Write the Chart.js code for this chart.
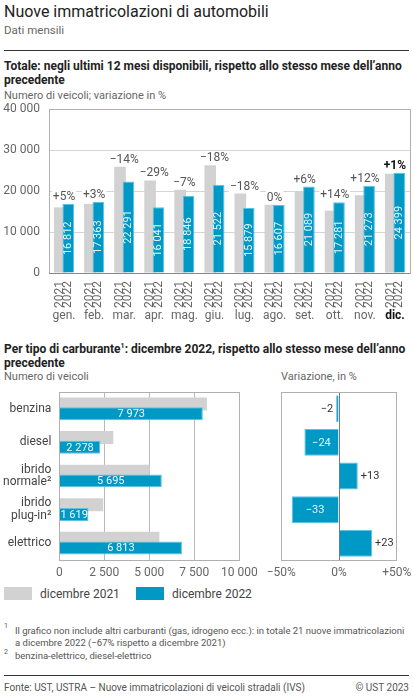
<!DOCTYPE html>
<html lang="it">
<head>
<meta charset="utf-8">
<title>Nuove immatricolazioni di automobili</title>
<script src="https://cdn.jsdelivr.net/npm/chart.js@4.4.1/dist/chart.umd.min.js"></script>
<style>
  html, body { margin: 0; padding: 0; background: #fff; }
  body { width: 413px; height: 696px; position: relative; overflow: hidden; font-family: Roboto, "Noto Sans", sans-serif; }
  .t { position: absolute; white-space: nowrap; }
  .rule { position: absolute; left: 4px; width: 405px; height: 1px; background: #333; }
  canvas { position: absolute; }
  .sw { position: absolute; width: 28px; height: 13px; }
</style>
</head>
<body>
<div class="t" style="left:4px;top:2px;font-size:16px;line-height:20px;color:#222">Nuove immatricolazioni di automobili</div>
<div class="t" style="left:4px;top:23px;font-size:11.5px;line-height:14px;color:#666">Dati mensili</div>
<div class="rule" style="top:50px"></div>

<div class="t" style="left:4px;top:59px;font-size:12px;line-height:14px;color:#222;font-weight:bold">Totale: negli ultimi 12 mesi disponibili, rispetto allo stesso mese dell’anno<br>precedente</div>
<div class="t" style="left:4px;top:89px;font-size:11px;line-height:14px;color:#666">Numero di veicoli; variazione in %</div>
<canvas id="monthly" width="413" height="225" style="left:0;top:100px"></canvas>

<div class="t" style="left:4px;top:339px;font-size:12px;line-height:14px;color:#222;font-weight:bold">Per tipo di carburante<sup style="font-size:7px">1</sup>: dicembre 2022, rispetto allo stesso mese dell’anno<br>precedente</div>
<div class="t" style="left:4px;top:370px;font-size:11px;line-height:14px;color:#666">Numero di veicoli</div>
<div class="t" style="left:281px;top:370px;font-size:11px;line-height:14px;color:#666">Variazione, in %</div>
<canvas id="fuel" width="262" height="195" style="left:0;top:385px"></canvas>
<canvas id="change" width="151" height="195" style="left:262px;top:385px"></canvas>

<div class="sw" style="left:4px;top:587px;background:#d2d2d2"></div>
<div class="t" style="left:40px;top:587px;font-size:12px;line-height:14px;color:#444">dicembre 2021</div>
<div class="sw" style="left:136px;top:587px;background:#0099c6"></div>
<div class="t" style="left:172px;top:587px;font-size:12px;line-height:14px;color:#444">dicembre 2022</div>

<div class="t" style="left:4px;top:622px;font-size:7px;line-height:8px;color:#555">1</div>
<div class="t" style="left:15px;top:625px;font-size:9.5px;line-height:12px;color:#555">Il grafico non include altri carburanti (gas, idrogeno ecc.): in totale 21 nuove immatricolazioni<br>a dicembre 2022 (−67% rispetto a dicembre 2021)</div>
<div class="t" style="left:4px;top:648px;font-size:7px;line-height:8px;color:#555">2</div>
<div class="t" style="left:15px;top:650px;font-size:9.5px;line-height:12px;color:#555">benzina-elettrico, diesel-elettrico</div>
<div class="rule" style="top:675px"></div>
<div class="t" style="left:4px;top:682px;font-size:10px;line-height:12px;color:#555">Fonte: UST, USTRA – Nuove immatricolazioni di veicoli stradali (IVS)</div>
<div class="t" style="right:4px;top:682px;font-size:10px;line-height:12px;color:#555">© UST 2023</div>

<script>
// monthly totals
const months = ["gen.", "feb.", "mar.", "apr.", "mag.", "giu.", "lug.", "ago.", "set.", "ott.", "nov.", "dic."];
const years = ["2021", "2022"];
const total2021 = [16010, 16860, 25920, 22590, 20300, 26300, 19380, 16650, 20000, 15200, 18990, 24200];
const total2022 = [16812, 17363, 22291, 16041, 18846, 21522, 15879, 16607, 21089, 17281, 21273, 24399];
const totalChange = ["+5%", "+3%", "−14%", "−29%", "−7%", "−18%", "−18%", "0%", "+6%", "+14%", "+12%", "+1%"];
const totalTicks = [0, 10000, 20000, 30000, 40000];

// fuel types, December
const fuels = [["benzina"], ["diesel"], ["ibrido", "normale²"], ["ibrido", "plug-in²"], ["elettrico"]];
const fuel2021 = [8200, 3000, 5020, 2440, 5560];
const fuel2022 = [7973, 2278, 5695, 1619, 6813];
const fuelTicks = [0, 2500, 5000, 7500, 10000];
// bar lengths as drawn in the reference, and the printed labels
const fuelChangeBars = [-2.5, -30, 16.3, -41, 28.7];
const fuelChangeLabels = ["−2", "−24", "+13", "−33", "+23"];
const changeTicks = [-50, 0, 50];

const GREY = "#d2d2d2";
const BLUE = "#0099c6";

Chart.defaults.font.family = "Roboto, 'Noto Sans', sans-serif";
Chart.defaults.animation = false;

function fmt(n) {
    return String(n).replace(/\B(?=(\d{3})+(?!\d))/g, " ");
}

// fixed axis size, no extra room for the end labels (layout padding handles it)
function fixSize(w, h) {
    return s => {
        if (w !== null) s.width = w;
        if (h !== null) s.height = h;
        s.paddingTop = s.paddingBottom = s.paddingLeft = s.paddingRight = 0;
    };
}

// draws the 2022 bars after the 2021 ones so they sit on top
const blueOnTop = {
    id: "blueOnTop",
    beforeDatasetDraw(chart, args) {
        if (args.index === 1 && !chart.$late) return false;
    },
    afterDatasetsDraw(chart) {
        const a = chart.chartArea;
        const ctx = chart.ctx;
        chart.$late = true;
        ctx.save();
        ctx.beginPath();
        ctx.rect(a.left, a.top, a.right - a.left, a.bottom - a.top);
        ctx.clip();
        chart.getDatasetMeta(1).controller.draw();
        ctx.restore();
        chart.$late = false;
    }
};

// grey box around the plot area
const frame = {
    id: "frame",
    afterDraw(chart, args, opts) {
        const a = chart.chartArea;
        const ctx = chart.ctx;
        ctx.save();
        ctx.strokeStyle = "#b0b0b0";
        ctx.lineWidth = 1;
        ctx.strokeRect(Math.round(a.left) + 0.5, Math.round(a.top) + 0.5,
            Math.round(a.right - a.left), Math.round(a.bottom - a.top));
        if (opts.baseline) {
            ctx.strokeStyle = "#888";
            ctx.beginPath();
            ctx.moveTo(a.left, Math.round(a.bottom) + 0.5);
            ctx.lineTo(a.right, Math.round(a.bottom) + 0.5);
            ctx.stroke();
        }
        ctx.restore();
    }
};

// labels for the monthly chart
const monthlyLabels = {
    id: "monthlyLabels",
    afterDraw(chart) {
        const ctx = chart.ctx;
        const m21 = chart.getDatasetMeta(0).data;
        const m22 = chart.getDatasetMeta(1).data;
        const bottom = chart.chartArea.bottom;
        ctx.save();
        m22.forEach((bar, i) => {
            const g = m21[i];
            const mid = (g.x + bar.x) / 2;
            const last = i === months.length - 1;

            // value inside the blue bar
            ctx.save();
            ctx.translate(bar.x, (bar.y + bar.base) / 2);
            ctx.rotate(-Math.PI / 2);
            ctx.font = "11px Roboto";
            ctx.fillStyle = "#e8f5fa";
            ctx.textAlign = "center";
            ctx.textBaseline = "middle";
            ctx.fillText(fmt(total2022[i]), 0, 0);
            ctx.restore();

            // change on top, white backed
            const top = Math.min(g.y, bar.y);
            ctx.font = (last ? "bold " : "") + "12px Roboto";
            const w = ctx.measureText(totalChange[i]).width;
            ctx.fillStyle = "#fff";
            ctx.fillRect(mid - w / 2 - 1, top - 14, w + 2, 13);
            ctx.fillStyle = last ? "#111" : "#555";
            ctx.textAlign = "center";
            ctx.textBaseline = "bottom";
            ctx.fillText(totalChange[i], mid, top - 1);

            // years, rotated
            [g, bar].forEach((b, k) => {
                ctx.save();
                ctx.translate(b.x, bottom + 8);
                ctx.rotate(-Math.PI / 2);
                ctx.font = "12px Roboto";
                ctx.fillStyle = "#666";
                ctx.textAlign = "right";
                ctx.textBaseline = "middle";
                ctx.fillText(years[k], 0, 0);
                ctx.restore();
            });

            // month
            ctx.font = (last ? "bold " : "") + "12px Roboto";
            ctx.fillStyle = last ? "#111" : "#666";
            ctx.textAlign = "center";
            ctx.textBaseline = "middle";
            ctx.fillText(months[i], mid, bottom + 43);
        });
        ctx.restore();
    }
};

new Chart(document.getElementById("monthly"), {
    type: "bar",
    data: {
        labels: months,
        datasets: [
            { label: years[0], data: total2021, backgroundColor: GREY,
              categoryPercentage: 0.56, barPercentage: 1.38 },
            { label: years[1], data: total2022, backgroundColor: BLUE,
              borderColor: "#5cc2e4", borderWidth: 1,
              categoryPercentage: 0.56, barPercentage: 1.38 }
        ]
    },
    options: {
        responsive: false,
        layout: { padding: { top: 9, right: 3, left: 0, bottom: 0 } },
        plugins: { legend: { display: false }, tooltip: { enabled: false }, frame: { baseline: true } },
        scales: {
            x: {
                grid: { display: false, drawTicks: false },
                border: { display: false },
                ticks: { display: false },
                afterFit: fixSize(null, 52)
            },
            y: {
                min: totalTicks[0],
                max: totalTicks[totalTicks.length - 1],
                afterBuildTicks: s => { s.ticks = totalTicks.map(v => ({ value: v })); },
                grid: { color: "#d4d4d4", drawTicks: false },
                border: { display: false },
                ticks: { padding: 9, color: "#666", font: { size: 12 }, callback: v => fmt(v) },
                afterFit: fixSize(49, null)
            }
        }
    },
    plugins: [blueOnTop, frame, monthlyLabels]
});

// values inside the blue bars of the fuel chart
const fuelLabels = {
    id: "fuelLabels",
    afterDraw(chart) {
        const ctx = chart.ctx;
        ctx.save();
        ctx.font = "11px Roboto";
        ctx.fillStyle = "#eef8fc";
        ctx.textAlign = "center";
        ctx.textBaseline = "middle";
        chart.getDatasetMeta(1).data.forEach((bar, i) => {
            ctx.fillText(fmt(fuel2022[i]), (bar.x + bar.base) / 2, bar.y + 0.5);
        });
        ctx.restore();
    }
};

new Chart(document.getElementById("fuel"), {
    type: "bar",
    data: {
        labels: fuels,
        datasets: [
            { label: "dicembre 2021", data: fuel2021, backgroundColor: GREY,
              categoryPercentage: 0.58, barPercentage: 1.33 },
            { label: "dicembre 2022", data: fuel2022, backgroundColor: BLUE,
              borderColor: "#5cc2e4", borderWidth: 1,
              categoryPercentage: 0.58, barPercentage: 1.33 }
        ]
    },
    options: {
        responsive: false,
        indexAxis: "y",
        layout: { padding: { top: 7, right: 22.7, left: 0, bottom: 0 } },
        plugins: { legend: { display: false }, tooltip: { enabled: false }, frame: { baseline: false } },
        scales: {
            x: {
                min: fuelTicks[0],
                max: fuelTicks[fuelTicks.length - 1],
                afterBuildTicks: s => { s.ticks = fuelTicks.map(v => ({ value: v })); },
                grid: { color: "#b8b8b8", drawTicks: false },
                border: { display: false },
                ticks: { padding: 6, color: "#666", font: { size: 12 }, maxRotation: 0, callback: v => fmt(v) },
                afterFit: fixSize(null, 20)
            },
            y: {
                grid: { display: false, drawTicks: false },
                border: { display: false },
                ticks: { padding: 8, color: "#444", font: { size: 12, lineHeight: 1.08 } },
                afterFit: fixSize(59.3, null)
            }
        }
    },
    plugins: [blueOnTop, frame, fuelLabels]
});

// change labels: inside for large drops, outside otherwise
const changeLabels = {
    id: "changeLabels",
    afterDraw(chart) {
        const ctx = chart.ctx;
        ctx.save();
        ctx.font = "11px Roboto";
        ctx.textBaseline = "middle";
        chart.getDatasetMeta(0).data.forEach((bar, i) => {
            const v = fuelChangeBars[i];
            const txt = fuelChangeLabels[i];
            if (v < -10) {
                ctx.fillStyle = "#e6f4fa";
                ctx.textAlign = "center";
                ctx.fillText(txt, (bar.x + bar.base) / 2, bar.y + 0.5);
            } else if (v < 0) {
                ctx.fillStyle = "#333";
                ctx.textAlign = "right";
                ctx.fillText(txt, bar.x - 3, bar.y + 0.5);
            } else {
                ctx.fillStyle = "#333";
                ctx.textAlign = "left";
                ctx.fillText(txt, bar.x + 3, bar.y + 0.5);
            }
        });
        ctx.restore();
    }
};

new Chart(document.getElementById("change"), {
    type: "bar",
    data: {
        labels: fuels,
        datasets: [
            { label: "Variazione", data: fuelChangeBars, backgroundColor: BLUE,
              borderColor: "#5cc2e4", borderWidth: 1, borderSkipped: "start",
              categoryPercentage: 1, barPercentage: 0.8 }
        ]
    },
    options: {
        responsive: false,
        indexAxis: "y",
        layout: { padding: { top: 7, right: 16.3, left: 0, bottom: 0 } },
        plugins: { legend: { display: false }, tooltip: { enabled: false }, frame: { baseline: false } },
        scales: {
            x: {
                min: changeTicks[0],
                max: changeTicks[changeTicks.length - 1],
                afterBuildTicks: s => { s.ticks = changeTicks.map(v => ({ value: v })); },
                grid: { color: c => c.tick && c.tick.value === 0 ? "#7a7a7a" : "#b0b0b0", drawTicks: false },
                border: { display: false },
                ticks: {
                    padding: 6, color: "#666", font: { size: 12 }, maxRotation: 0,
                    callback: v => v === 0 ? "0%" : (v > 0 ? "+" : "−") + Math.abs(v) + "%"
                },
                afterFit: fixSize(null, 20)
            },
            y: {
                grid: { display: false, drawTicks: false },
                border: { display: false },
                ticks: { display: false },
                afterFit: fixSize(19.3, null)
            }
        }
    },
    plugins: [frame, changeLabels]
});
</script>
</body>
</html>
